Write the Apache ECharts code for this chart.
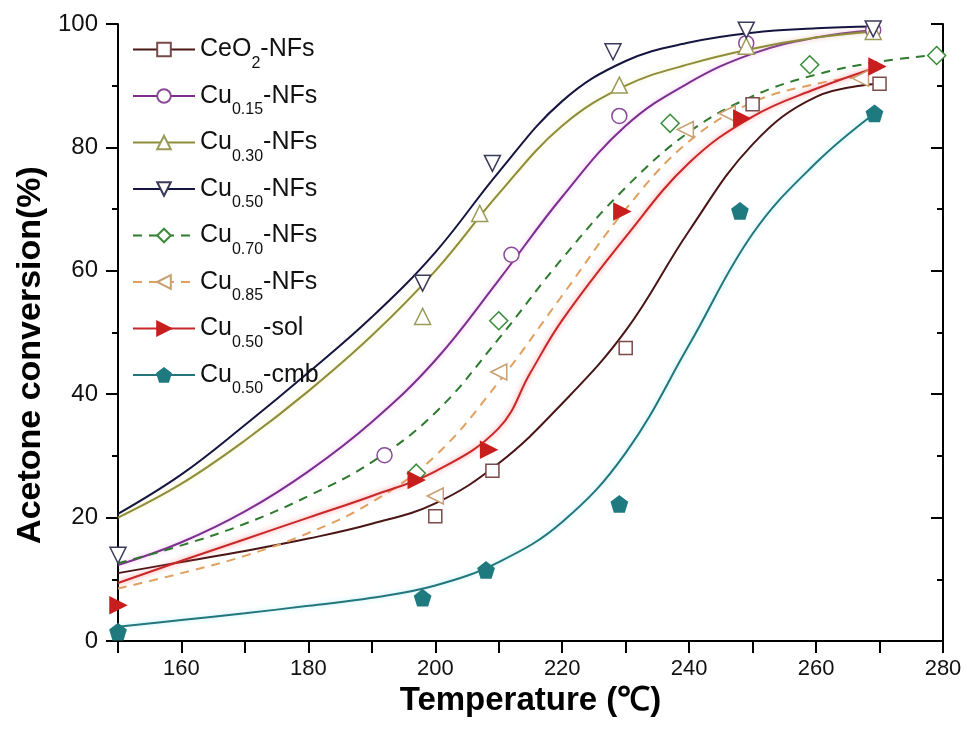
<!DOCTYPE html>
<html><head><meta charset="utf-8">
<script src="https://cdn.jsdelivr.net/npm/echarts@6/dist/echarts.min.js"></script>
<style>html,body{margin:0;padding:0;background:#fff}#c{width:967px;height:740px}</style>
</head><body><div id="c"></div>
<script>
// ---------- data ----------
const seriesNames = ['CeO2-NFs','Cu0.15-NFs','Cu0.30-NFs','Cu0.50-NFs','Cu0.70-NFs','Cu0.85-NFs','Cu0.50-sol','Cu0.50-cmb'];
const legendLabels = ['CeO{s|2}-NFs','Cu{s|0.15}-NFs','Cu{s|0.30}-NFs','Cu{s|0.50}-NFs','Cu{s|0.70}-NFs','Cu{s|0.85}-NFs','Cu{s|0.50}-sol','Cu{s|0.50}-cmb'];
const xTickLabels = [160,180,200,220,240,260,280];
const xMinorTicks = [150,170,190,210,230,250,270];
const yTickLabels = [0,20,40,60,80,100];
const xTitle = 'Temperature (℃)';
const yTitle = 'Acetone conversion(%)';

// measured points
const ceo2PtX = [200,209,230,250,270];
const ceo2PtY = [20.2,27.6,47.5,87.0,90.3];
const cu15PtX = [192,212,229,249,269];
const cu15PtY = [30.1,62.6,85.1,96.9,99.0];
const cu30PtX = [198,207,229,249,269];
const cu30PtY = [52.6,69.3,90.1,96.4,98.8];
const cu50PtX = [150,198,209,228,249,269];
const cu50PtY = [13.9,58.0,77.4,95.5,99.0,99.2];
const cu70PtX = [197,210,237,259,279];
const cu70PtY = [27.2,51.9,83.9,93.4,94.9];
const cu85PtX = [200,210,239.4,246,267];
const cu85PtY = [23.5,43.6,82.9,85.5,91.2];
const solPtX = [150,197,208.4,229.4,248.3,269.6];
const solPtY = [5.8,26.1,31.0,69.6,84.7,93.1];
const cmbPtX = [150,198,208,229,248,269.2];
const cmbPtY = [1.5,7.0,11.5,22.2,69.7,85.5];

// fitted curves
const ceo2CurveX = [150,160,170,180,190,200,210,220,230,240,250,260,270];
const ceo2CurveY = [11,12.8,14.6,16.6,19,22.3,28.8,38.5,50.3,66.5,80.5,88.2,90.3];
const cu15CurveX = [150,160,170,180,190,200,210,220,230,240,250,260,269];
const cu15CurveY = [12.3,16,21,27.5,35.5,45.5,58.5,72,83.5,90.5,95.2,97.8,99];
const cu30CurveX = [150,160,170,180,190,200,210,220,230,240,250,260,269];
const cu30CurveY = [20,25.5,32.5,40.5,49.5,60,72.5,83.5,90,93.5,96,97.8,98.8];
const cu50CurveX = [150,160,170,180,190,200,210,220,230,240,250,260,269];
const cu50CurveY = [20.6,27,35,43.5,52.5,63,76,87.5,94,97,98.6,99.3,99.6];
const cu70CurveX = [150,160,170,180,190,200,210,220,230,240,250,260,270,279];
const cu70CurveY = [12.6,15.5,19,23.5,29,37,49,62,73.5,82.5,88.3,91.8,93.9,95];
const cu85CurveX = [150,160,170,180,190,200,210,220,230,240,250,260,267];
const cu85CurveY = [8.5,11,13.8,17.5,22.5,30,42,56,70,81,87.3,90.3,91.5];
const solCurveX = [150,160,170,180,190,200,210,215,220,230,240,250,260,269.6];
const solCurveY = [9.4,13,16.5,20,23.5,27.5,34.5,43.5,52,65.5,77.5,85,89.5,93];
const cmbCurveX = [150,160,170,180,190,200,210,220,230,240,250,260,269.2];
const cmbCurveY = [2.3,3.4,4.5,5.7,7.0,9.0,12.8,19.3,30.5,48,66,77.5,85.5];

// ---------- build ----------
const zip = (a, b) => a.map((v, i) => [v, b[i]]);
const pent = 'path://M0,-10 L9.51,-3.09 L5.88,8.09 L-5.88,8.09 L-9.51,-3.09 Z';
const styles = [
  {cx: ceo2CurveX, cy: ceo2CurveY, px: ceo2PtX, py: ceo2PtY, line: '#4a1515', sym: 'rect', rot: 0, size: 13, fill: '#fff', border: '#7a4a4a', dash: 'solid'},
  {cx: cu15CurveX, cy: cu15CurveY, px: cu15PtX, py: cu15PtY, line: '#7b2f8e', sym: 'circle', rot: 0, size: 15, fill: '#fff', border: '#8a4a9a', dash: 'solid', glow: 'rgba(230,120,230,0.5)'},
  {cx: cu30CurveX, cy: cu30CurveY, px: cu30PtX, py: cu30PtY, line: '#8f8c3a', sym: 'triangle', rot: 0, size: 16, fill: '#fff', border: '#9a9a5a', dash: 'solid', glow: 'rgba(230,230,120,0.5)'},
  {cx: cu50CurveX, cy: cu50CurveY, px: cu50PtX, py: cu50PtY, line: '#15163f', sym: 'triangle', rot: 180, size: 16, fill: '#fff', border: '#3a3a5a', dash: 'solid'},
  {cx: cu70CurveX, cy: cu70CurveY, px: cu70PtX, py: cu70PtY, line: '#2e7a2e', sym: 'diamond', rot: 0, size: 18, fill: '#fff', border: '#3a8a3a', dash: [9, 7]},
  {cx: cu85CurveX, cy: cu85CurveY, px: cu85PtX, py: cu85PtY, line: '#e0a060', sym: 'triangle', rot: 90, size: 16, fill: '#fff', border: '#c8a070', dash: [9, 7]},
  {cx: solCurveX, cy: solCurveY, px: solPtX, py: solPtY, line: '#c8282a', sym: 'triangle', rot: -90, size: 16, fill: '#c81e1e', border: '#c81e1e', dash: 'solid', glow: 'rgba(255,90,90,0.7)'},
  {cx: cmbCurveX, cy: cmbCurveY, px: cmbPtX, py: cmbPtY, line: '#23767c', sym: pent, rot: 0, size: 16, fill: '#1f7a80', border: '#1f7a80', dash: 'solid', glow: 'rgba(120,230,240,0.6)'}
];
const labelMap = {};
seriesNames.forEach((n, i) => labelMap[n] = legendLabels[i]);

const series = [];
styles.forEach((s, i) => {
  const ls = {color: s.line, width: 2, type: s.dash};
  if (s.glow) { ls.shadowColor = s.glow; ls.shadowBlur = 5; }
  series.push({
    name: seriesNames[i], type: 'line', data: zip(s.cx, s.cy),
    smooth: 0.4, showSymbol: false,
    symbol: s.sym, symbolRotate: s.rot, symbolSize: s.size,
    itemStyle: {color: s.fill, borderColor: s.border, borderWidth: 1.5},
    lineStyle: ls, z: 2, silent: true
  });
});
styles.forEach((s, i) => {
  series.push({
    name: seriesNames[i], type: 'scatter', data: zip(s.px, s.py),
    symbol: s.sym, symbolRotate: s.rot, symbolSize: s.size,
    itemStyle: {color: s.fill, borderColor: s.border, borderWidth: 1.5, opacity: 1},
    z: 3, silent: true
  });
});

const FF = 'Liberation Sans, Arial, sans-serif';
const axisLineStyle = {color: '#000', width: 2};
const option = {
  animation: false,
  backgroundColor: '#fff',
  grid: [
    {left: 118, right: 24, top: 24, bottom: 99, containLabel: false},
    {left: 118, right: 24, top: 24, bottom: 99, containLabel: false}
  ],
  legend: {
    data: seriesNames, orient: 'vertical', left: 127, top: 32,
    itemWidth: 62, itemHeight: 17, itemGap: 12,
    formatter: n => labelMap[n],
    textStyle: {fontFamily: FF, fontSize: 25, color: '#111',
      rich: {s: {fontSize: 16, fontFamily: FF, color: '#111', lineHeight: 44, verticalAlign: 'bottom'}}},
    selectedMode: false
  },
  graphic: [
    {type: 'text', x: 31, y: 355, rotation: Math.PI / 2, silent: true,
      style: {text: yTitle, font: 'bold 34px ' + FF, fill: '#000', align: 'center', verticalAlign: 'middle'}}
  ],
  xAxis: [
    {type: 'value', gridIndex: 0, position: 'bottom', min: 150, max: 280, interval: 10,
      axisLine: {show: true, lineStyle: axisLineStyle},
      axisTick: {show: true, inside: false, length: 12, lineStyle: {color: '#000', width: 2}, customValues: xTickLabels},
      axisLabel: {show: true, customValues: xTickLabels, fontSize: 22, color: '#111', margin: 17, fontFamily: FF},
      splitLine: {show: false},
      name: xTitle, nameLocation: 'middle', nameGap: 20,
      nameTextStyle: {fontSize: 33, fontWeight: 'bold', color: '#000', fontFamily: FF}},
    {type: 'value', gridIndex: 0, position: 'top', min: 150, max: 280, interval: 10,
      axisLine: {show: true, lineStyle: axisLineStyle},
      axisTick: {show: true, inside: true, length: 12, lineStyle: {color: '#000', width: 2}},
      axisLabel: {show: false}, splitLine: {show: false}},
    {type: 'value', gridIndex: 1, position: 'bottom', min: 150, max: 280, interval: 10,
      axisLine: {show: false},
      axisTick: {show: true, inside: false, length: 6, lineStyle: {color: '#000', width: 2}, customValues: xMinorTicks},
      axisLabel: {show: false}, splitLine: {show: false}}
  ],
  yAxis: [
    {type: 'value', gridIndex: 0, position: 'left', min: 0, max: 100, interval: 20,
      axisLine: {show: true, lineStyle: axisLineStyle},
      axisTick: {show: true, inside: false, length: 12, lineStyle: {color: '#000', width: 2}, customValues: yTickLabels},
      minorTick: {show: true, splitNumber: 2, length: 6, lineStyle: {color: '#000', width: 2}},
      axisLabel: {fontSize: 24, color: '#111', margin: 20, fontFamily: FF, customValues: yTickLabels},
      splitLine: {show: false}, minorSplitLine: {show: false}},
    {type: 'value', gridIndex: 0, position: 'right', min: 0, max: 100, interval: 20,
      axisLine: {show: true, lineStyle: axisLineStyle},
      axisTick: {show: true, inside: true, length: 12, lineStyle: {color: '#000', width: 2}},
      minorTick: {show: true, splitNumber: 2, length: 6, lineStyle: {color: '#000', width: 2}},
      axisLabel: {show: false}, splitLine: {show: false}},
    {type: 'value', gridIndex: 1, position: 'left', min: 0, max: 100, interval: 20, show: false}
  ],
  series: series
};
const chart = echarts.init(document.getElementById('c'), null, {renderer: 'canvas'});
chart.setOption(option);
</script>
</body></html>
